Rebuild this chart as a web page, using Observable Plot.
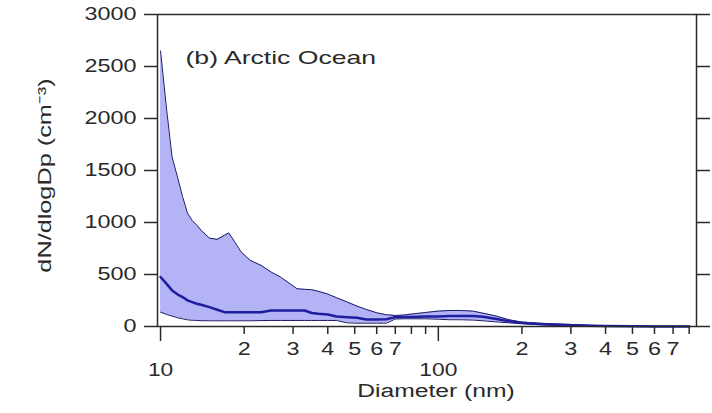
<!DOCTYPE html>
<html>
<head>
<meta charset="utf-8">
<script src="https://cdn.jsdelivr.net/npm/d3@7"></script>
<script src="https://cdn.jsdelivr.net/npm/@observablehq/plot@0.6"></script>
<style>
  html, body { margin: 0; padding: 0; background: #fff; }
</style>
</head>
<body>
<div id="chart"></div>
<script>
// Diameter (nm)
const diam = [10, 10.5, 11, 11.5, 12, 12.5, 13, 13.5, 14, 15, 16, 17, 17.6, 18.5, 19.5, 21, 23, 25, 27, 29, 31, 33, 35, 37, 40, 43, 47, 51, 55, 60, 65, 70, 75, 80, 90, 100, 110, 120, 133, 145, 160, 180, 200, 230, 260, 300, 350, 400, 500, 600, 700, 800];
// Upper bound dN/dlogDp
const upper = [2650, 2100, 1630, 1440, 1250, 1090, 1020, 975, 925, 850, 838, 878, 900, 813, 717, 637, 588, 524, 476, 418, 363, 357, 354, 338, 312, 277, 235, 196, 164, 132, 113, 106, 110, 119, 135, 148, 154, 154, 148, 128, 103, 65, 42, 32, 26, 20, 12, 8, 5, 3, 2, 2];
// Median
const median = [476, 412, 347, 309, 283, 251, 235, 219, 209, 186, 161, 138, 138, 138, 138, 138, 138, 154, 154, 154, 154, 154, 130, 122, 115, 96, 90, 84, 67, 67, 70, 90, 92, 92, 95, 96, 100, 100, 100, 94, 74, 51, 35, 25, 18, 12, 7, 4, 2, 1, 1, 1];
// Lower bound
const lower = [138, 116, 100, 84, 74, 64, 60, 58, 56, 55, 55, 55, 55, 55, 55, 55, 57, 58, 58, 58, 58, 58, 58, 58, 58, 58, 35, 32, 32, 32, 32, 72, 74, 74, 74, 70, 65, 65, 62, 55, 45, 35, 26, 18, 13, 8, 4, 2, 1, 1, 1, 1];

const yTicks = [0, 500, 1000, 1500, 2000, 2500, 3000];
const yTickLabels = ["0", "500", "1000", "1500", "2000", "2500", "3000"];
const xMajorTicks = [10, 100];
const xMajorLabels = ["10", "100"];
const xMinorTicks = [20, 30, 40, 50, 60, 70, 80, 90, 200, 300, 400, 500, 600, 700, 800];
const xMinorLabels = ["2", "3", "4", "5", "6", "7", "", "", "2", "3", "4", "5", "6", "7", ""];

const panelLabel = "(b) Arctic Ocean";
const xTitle = "Diameter (nm)";
const yTitle = "dN/dlogDp (cm\u207B\u00B3)";

const rows = diam.map((d, i) => ({d, u: upper[i], m: median[i], l: lower[i]}));
const yLab = new Map(yTicks.map((t, i) => [t, yTickLabels[i]]));
const minorRows = xMinorTicks.map((t, i) => ({t, s: xMinorLabels[i]})).filter(r => r.s !== "");
const majorRows = xMajorTicks.map((t, i) => ({t, s: xMajorLabels[i]}));

const ink = "#2a2a2a";

const svg = Plot.plot({
  width: 712,
  height: 413,
  marginLeft: 157,
  marginRight: 16,
  marginTop: 14,
  marginBottom: 87,
  style: {fontFamily: "'Liberation Sans', Arial, sans-serif", fontSize: "18px", color: ink, background: "#fff"},
  x: {type: "log", domain: [9.75, 850], label: null},
  y: {domain: [0, 3000], label: null},
  marks: [
    Plot.areaY(rows, {x: "d", y1: "l", y2: "u", fill: "#b3b3f5"}),
    Plot.line(rows, {x: "d", y: "u", stroke: "#1a1a66", strokeWidth: 1}),
    Plot.line(rows, {x: "d", y: "l", stroke: "#1a1a66", strokeWidth: 1}),
    Plot.line(rows, {x: "d", y: "m", stroke: "#1e1e9e", strokeWidth: 2.5}),
    Plot.frame({stroke: ink, strokeWidth: 1.5}),
    Plot.axisY({ticks: yTicks, tickSize: 13, tickPadding: 8, tickFormat: d => yLab.get(d), fontSize: 18, strokeWidth: 1.5, label: null}),
    Plot.axisY({anchor: "right", ticks: yTicks, tickSize: 13, tickFormat: () => "", strokeWidth: 1.5, label: null}),
    Plot.axisX({ticks: xMinorTicks, tickSize: 8, tickFormat: () => "", strokeWidth: 1.5, label: null}),
    Plot.axisX({ticks: xMajorTicks, tickSize: 15, tickFormat: () => "", strokeWidth: 1.5, label: null}),
    Plot.text(minorRows, {x: "t", text: "s", frameAnchor: "bottom", lineAnchor: "top", dy: 16, fontSize: 18, fill: ink}),
    Plot.text(majorRows, {x: "t", text: "s", frameAnchor: "bottom", lineAnchor: "top", dy: 36, fontSize: 19, fill: ink}),
    Plot.text([panelLabel], {frameAnchor: "top-left", textAnchor: "start", lineAnchor: "top", dx: 28, dy: 36, fontSize: 19, fill: ink}),
    Plot.text([xTitle], {frameAnchor: "bottom", lineAnchor: "top", dx: 9, dy: 57, fontSize: 19, fill: ink}),
    Plot.text([yTitle], {frameAnchor: "left", textAnchor: "middle", rotate: -90, dx: -113, dy: 5, fontSize: 19, fill: ink})
  ]
});

// horizontal stretch of the lettering, as in the reference
svg.querySelectorAll("text").forEach(t => {
  const txt = t.textContent;
  let s = 1.3;
  if (txt === panelLabel) s = 1.4;
  else if (txt === yTitle) s = 1.33;
  else if (txt === "10" || txt === "100") s = 1.2;
  const ax = parseFloat(t.getAttribute("x")) || 0;
  const tr = t.getAttribute("transform") || "";
  t.setAttribute("transform", `${tr} translate(${ax},0) scale(${s},1) translate(${-ax},0)`);
});

document.getElementById("chart").appendChild(svg);
</script>
</body>
</html>
